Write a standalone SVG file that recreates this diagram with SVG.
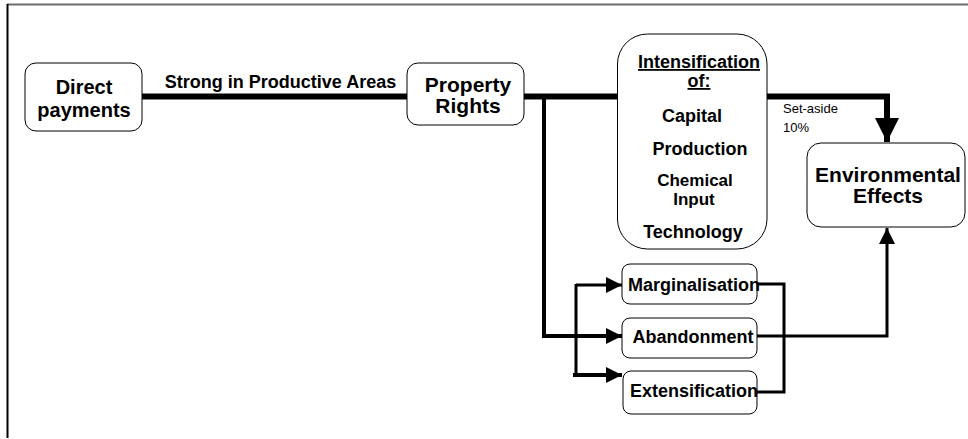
<svg xmlns="http://www.w3.org/2000/svg" width="968" height="439" viewBox="0 0 968 439">
  <style>
    .box { fill: #ffffff; stroke: #000000; stroke-width: 1; }
    .t { font-family: "Liberation Sans", Arial, sans-serif; font-weight: bold; fill: #000000; text-anchor: middle; }
    .small { font-family: "Liberation Sans", Arial, sans-serif; font-size: 13px; fill: #000000; }
    .wire { fill: none; stroke: #000000; stroke-linejoin: miter; stroke-linecap: butt; }
  </style>
  <defs>
    <marker id="arrowBig" viewBox="0 0 24 24" refX="24" refY="12" markerWidth="24" markerHeight="24" markerUnits="userSpaceOnUse" orient="auto">
      <path d="M0,0 L24,12 L0,24 Z" fill="#000000"/>
    </marker>
    <marker id="arrowSmall" viewBox="0 0 16 16" refX="16" refY="8" markerWidth="16" markerHeight="16" markerUnits="userSpaceOnUse" orient="auto">
      <path d="M0,0 L16,8 L0,16 Z" fill="#000000"/>
    </marker>
  </defs>

  <rect x="0" y="0" width="968" height="439" fill="#ffffff"/>

  <!-- frame -->
  <line x1="7" y1="4.5" x2="968" y2="4.5" stroke="#6e6e6e" stroke-width="2"/>
  <line x1="7.5" y1="4" x2="7.5" y2="438" stroke="#000000" stroke-width="2"/>

  <!-- connectors -->
  <g id="connectors">
    <!-- main policy line -->
    <line class="wire" x1="142" y1="96.5" x2="407" y2="96.5" stroke-width="6"/>
    <line class="wire" x1="524" y1="96.5" x2="618" y2="96.5" stroke-width="6"/>
    <path class="wire" d="M767,96.5 H887 V142" stroke-width="6" marker-end="url(#arrowBig)"/>
    <!-- branch down to the land-use outcomes -->
    <path class="wire" d="M544,96 V336 H622" stroke-width="4" marker-end="url(#arrowSmall)"/>
    <path class="wire" d="M576,285 H622" stroke-width="3" marker-end="url(#arrowSmall)"/>
    <path class="wire" d="M576,284 V375" stroke-width="3"/>
    <path class="wire" d="M573,375 H622" stroke-width="4" marker-end="url(#arrowSmall)"/>
    <!-- outcomes joined to environmental effects -->
    <path class="wire" d="M757,284 H784 V392 H757" stroke-width="3"/>
    <path class="wire" d="M757,336 H887 V228" stroke-width="3" marker-end="url(#arrowSmall)"/>
  </g>
  <text class="t" x="280.5" y="88" font-size="18">Strong in Productive Areas</text>
  <text class="small" x="783" y="113">Set-aside</text>
  <text class="small" x="783" y="132">10%</text>

  <g id="direct-payments">
    <rect class="box" x="25" y="63" width="117" height="68" rx="11"/>
    <text class="t" x="84" y="94" font-size="20">Direct</text>
    <text class="t" x="84" y="117" font-size="20">payments</text>
  </g>

  <g id="property-rights">
    <rect class="box" x="407" y="63" width="117" height="62" rx="11"/>
    <text class="t" x="468" y="92" font-size="21">Property</text>
    <text class="t" x="468" y="113" font-size="21">Rights</text>
  </g>

  <g id="intensification">
    <rect class="box" x="617.5" y="34" width="149.5" height="215" rx="30"/>
    <text class="t" x="699" y="68" font-size="18" text-decoration="underline">Intensification</text>
    <text class="t" x="699" y="87" font-size="18" text-decoration="underline">of:</text>
    <text class="t" x="692" y="122" font-size="18">Capital</text>
    <text class="t" x="700" y="155" font-size="18">Production</text>
    <text class="t" x="695" y="186" font-size="17">Chemical</text>
    <text class="t" x="694" y="205" font-size="17">Input</text>
    <text class="t" x="693" y="238" font-size="18">Technology</text>
  </g>

  <g id="environmental-effects">
    <rect class="box" x="807" y="143" width="158" height="84" rx="14"/>
    <text class="t" x="888" y="182" font-size="21">Environmental</text>
    <text class="t" x="888" y="203" font-size="21">Effects</text>
  </g>

  <g id="marginalisation">
    <rect class="box" x="622" y="264" width="135" height="40" rx="8"/>
    <text class="t" x="694" y="291" font-size="18">Marginalisation</text>
  </g>

  <g id="abandonment">
    <rect class="box" x="622" y="318" width="135" height="40" rx="8"/>
    <text class="t" x="693" y="343" font-size="18">Abandonment</text>
  </g>

  <g id="extensification">
    <rect class="box" x="623" y="371" width="134" height="43" rx="8"/>
    <text class="t" x="694" y="397" font-size="18">Extensification</text>
  </g>
</svg>
